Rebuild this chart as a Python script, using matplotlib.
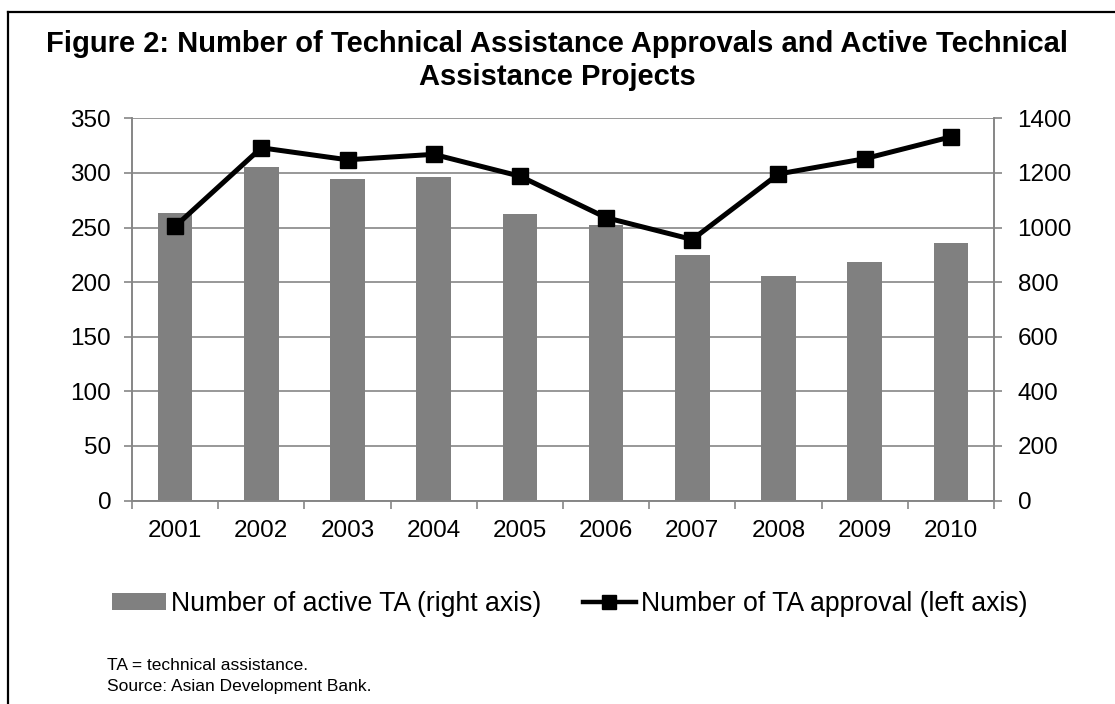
import matplotlib
matplotlib.use("Agg")
import matplotlib.pyplot as plt
from matplotlib.lines import Line2D
from matplotlib.patches import Patch

plt.rcParams['font.family'] = ['Liberation Sans', 'DejaVu Sans']

years = ["2001", "2002", "2003", "2004", "2005", "2006", "2007", "2008", "2009", "2010"]
active_ta = [1052, 1220, 1178, 1185, 1048, 1010, 901, 824, 875, 943]
ta_approvals = [251, 323, 312, 317, 297, 259, 239, 299, 313, 333]
left_ticks = [0, 50, 100, 150, 200, 250, 300, 350]
right_ticks = [0, 200, 400, 600, 800, 1000, 1200, 1400]

W, H = 1115, 704
fig = plt.figure(figsize=(W / 100, H / 100), dpi=100)
fig.patch.set_facecolor("white")

# plot area in pixel terms converted to figure fractions
x0, x1, ytop, ybot = 132, 994, 118.3, 500.5
ax = fig.add_axes([x0 / W, 1 - ybot / H, (x1 - x0) / W, (ybot - ytop) / H])
ax2 = ax.twinx()

grid_c = "#868686"
bar_c = "#808080"
tick_fs = 17.5
x = list(range(len(years)))

# bars on the right axis
ax2.bar(x, active_ta, width=0.4, color=bar_c, zorder=2)
ax2.set_ylim(0, 1400)
ax2.set_yticks(right_ticks)

# line on the left axis, drawn above the bars
ax.set_zorder(ax2.get_zorder() + 1)
ax.patch.set_visible(False)
ax.plot(x, ta_approvals, color="black", lw=3.6, marker="s", markersize=11.5,
        markerfacecolor="black", markeredgecolor="black", zorder=5)
ax.set_ylim(0, 350)
ax.set_yticks(left_ticks)
ax.set_xlim(-0.5, len(years) - 0.5)

# horizontal gridlines
for t in right_ticks:
    ax2.axhline(t, color=grid_c, lw=1.2, zorder=1)

ax.set_xticks(x)
ax.set_xticklabels(years)
ax.set_xticks([i - 0.5 for i in range(len(years) + 1)], minor=True)
ax.tick_params(axis="x", which="major", length=0, pad=14, labelsize=tick_fs)
ax.tick_params(axis="x", which="minor", length=6, color=grid_c, width=1.2, direction="out")
ax.tick_params(axis="y", length=6, color=grid_c, width=1.2, labelsize=tick_fs, pad=9)
ax2.tick_params(axis="y", length=6, color=grid_c, width=1.2, labelsize=tick_fs, pad=11)

for a in (ax, ax2):
    a.spines["top"].set_visible(False)
    for side in ("left", "right", "bottom"):
        a.spines[side].set_color(grid_c)
        a.spines[side].set_linewidth(1.2)

# title
fig.text(0.5, 1 - 44 / H, "Figure 2: Number of Technical Assistance Approvals and Active Technical",
         ha="center", va="center", fontsize=21, fontweight="bold")
fig.text(0.5, 1 - 77 / H, "Assistance Projects",
         ha="center", va="center", fontsize=21, fontweight="bold")

# legend
handles = [
    Patch(facecolor=bar_c, edgecolor="none"),
    Line2D([0], [0], color="black", lw=3.2, marker="s", markersize=9.5),
]
labels = ["Number of active TA (right axis)", "Number of TA approval (left axis)"]
fig.legend(handles, labels, loc="center", bbox_to_anchor=(570 / W, 1 - 604 / H), ncol=2,
           frameon=False, fontsize=19.2, handlelength=2.0, handletextpad=0.2,
           columnspacing=1.55, handleheight=0.6, borderaxespad=0, borderpad=0)

# notes
fig.text(107 / W, 1 - 665 / H, "TA = technical assistance.", ha="left", va="center", fontsize=12.5)
fig.text(107 / W, 1 - 686 / H, "Source: Asian Development Bank.", ha="left", va="center", fontsize=12.5)

# outer frame (left and top edges)
fig.add_artist(Line2D([8 / W, 8 / W], [0, 1 - 12 / H], color="black", lw=1.6,
                      transform=fig.transFigure))
fig.add_artist(Line2D([8 / W, 1], [1 - 12 / H, 1 - 12 / H], color="black", lw=1.6,
                      transform=fig.transFigure))

fig.savefig("out.png", dpi=100, facecolor="white")
